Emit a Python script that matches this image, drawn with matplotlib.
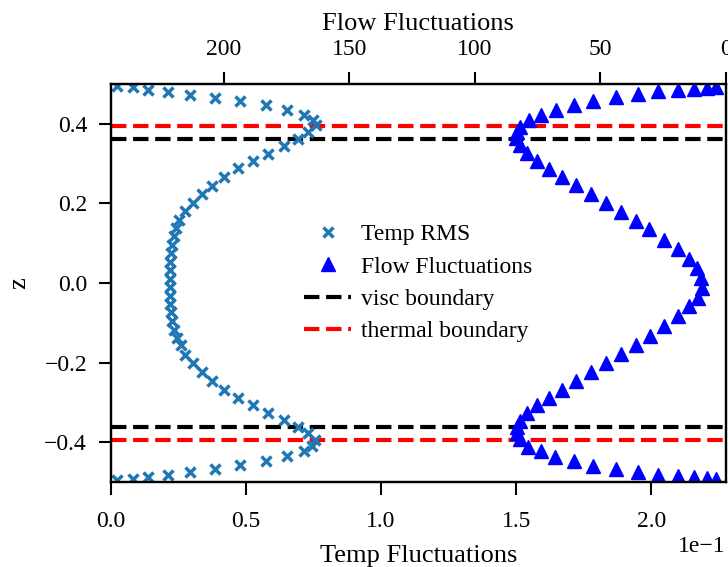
import numpy as np
import matplotlib
matplotlib.use("Agg")
import matplotlib.pyplot as plt

plt.rcParams['font.family'] = ['Liberation Serif', 'DejaVu Serif']

# Temperature RMS profile (bottom axis)
temp_z = [0.4955, 0.491, 0.485, 0.479, 0.473, 0.465, 0.456, 0.446, 0.435, 0.423,
          0.410, 0.396, 0.379, 0.362, 0.344, 0.325, 0.306, 0.288, 0.266, 0.244,
          0.223, 0.202, 0.180, 0.159, 0.138, 0.117, 0.096, 0.074, 0.053, 0.032,
          0.011,
          -0.011, -0.032, -0.053, -0.074, -0.096, -0.117, -0.138, -0.157, -0.180,
          -0.201, -0.224, -0.246, -0.268, -0.289, -0.307, -0.326, -0.344, -0.361,
          -0.378, -0.394, -0.409, -0.423, -0.436, -0.447, -0.457, -0.467, -0.476,
          -0.482, -0.487, -0.4915, -0.495]
temp_rms = [0.0023, 0.0084, 0.0139, 0.0211, 0.0294, 0.0386, 0.0479, 0.0575, 0.0654, 0.0715,
            0.0750, 0.0760, 0.0731, 0.0694, 0.0642, 0.0583, 0.0528, 0.0472, 0.0420, 0.0374,
            0.0337, 0.0306, 0.0275, 0.0253, 0.0242, 0.0234, 0.0228, 0.0224, 0.0221, 0.0220,
            0.0219,
            0.0219, 0.0220, 0.0221, 0.0224, 0.0228, 0.0234, 0.0244, 0.0260, 0.0275,
            0.0304, 0.0337, 0.0374, 0.0420, 0.0472, 0.0528, 0.0583, 0.0642, 0.0694,
            0.0731, 0.0756, 0.0746, 0.0715, 0.0654, 0.0575, 0.0479, 0.0386, 0.0294,
            0.0211, 0.0139, 0.0084, 0.0023]

# Flow fluctuation profile (top axis, inverted)
flow_z = [0.4915, 0.490, 0.488, 0.4855, 0.4815, 0.4755, 0.467, 0.457, 0.446, 0.435,
          0.422, 0.410, 0.3925, 0.379, 0.364, 0.347, 0.327, 0.307, 0.287, 0.266,
          0.245, 0.223, 0.200, 0.178, 0.156, 0.135, 0.109, 0.085, 0.060, 0.037,
          0.012,
          -0.012, -0.037, -0.059, -0.084, -0.109, -0.134, -0.156, -0.179, -0.200,
          -0.224, -0.246, -0.268, -0.288, -0.307, -0.326, -0.346, -0.363, -0.378,
          -0.392, -0.411, -0.423, -0.437, -0.448, -0.459, -0.467, -0.4755, -0.4815,
          -0.4855, -0.488, -0.490, -0.4915]
flow_fluct = [3.9, 7.4, 12.5, 19.2, 26.9, 35.1, 43.7, 52.7, 60.6, 67.8,
              73.6, 78.5, 81.8, 83.2, 83.4, 82.1, 79.1, 75.2, 70.6, 65.3,
              59.7, 53.7, 47.7, 41.8, 35.8, 30.4, 24.5, 19.2, 14.8, 11.4,
              9.8,
              9.6, 11.2, 14.5, 19.2, 24.5, 30.3, 35.8, 41.8, 47.7,
              53.7, 59.7, 65.3, 70.6, 75.2, 79.0, 81.9, 83.2, 83.2,
              81.9, 78.6, 73.6, 67.9, 60.6, 52.7, 43.7, 35.1, 26.9,
              19.2, 12.5, 7.4, 3.9]

visc_boundary = 0.362
thermal_boundary = 0.395

fig = plt.figure(figsize=(7.28, 5.67), dpi=100)
ax = fig.add_axes([0.152, 0.150, 0.845, 0.702])

hv = ax.axhline(visc_boundary, color='black', ls='--', lw=3, zorder=1, label='visc boundary')
ax.axhline(-visc_boundary, color='black', ls='--', lw=3, zorder=1)
ht = ax.axhline(thermal_boundary, color='red', ls='--', lw=3, zorder=1, label='thermal boundary')
ax.axhline(-thermal_boundary, color='red', ls='--', lw=3, zorder=1)

h1, = ax.plot(temp_rms, temp_z, 'x', color='#1f77b4', ms=7.5, mew=2.5, zorder=2, label='Temp RMS')
ax.set_xlim(0, 0.2275)
ax.set_ylim(-0.5, 0.5)
ax.set_xlabel('Temp Fluctuations', fontsize=19, labelpad=9)
ax.set_ylabel('z', fontsize=19, labelpad=10)
ax.ticklabel_format(axis='x', style='sci', scilimits=(0, 0))
ax.xaxis.get_offset_text().set_fontsize(17)

ax2 = ax.twiny()
h2, = ax2.plot(flow_fluct, flow_z, '^', color='blue', ms=10, label='Flow Fluctuations')
ax2.set_xlim(245, 0)
ax2.set_xlabel('Flow Fluctuations', fontsize=19, labelpad=7)

for a in (ax, ax2):
    a.tick_params(direction='out', length=9, width=1.5, labelsize=17, pad=8)
    for s in a.spines.values():
        s.set_linewidth(1.6)
ax.tick_params(axis='x', pad=12)

ax2.legend([h1, h2, hv, ht], ['Temp RMS', 'Flow Fluctuations', 'visc boundary', 'thermal boundary'],
           loc='center', frameon=False, fontsize=17, handlelength=2.0, handletextpad=0.4,
           labelspacing=0.45)

fig.savefig('out.png', dpi=100)
